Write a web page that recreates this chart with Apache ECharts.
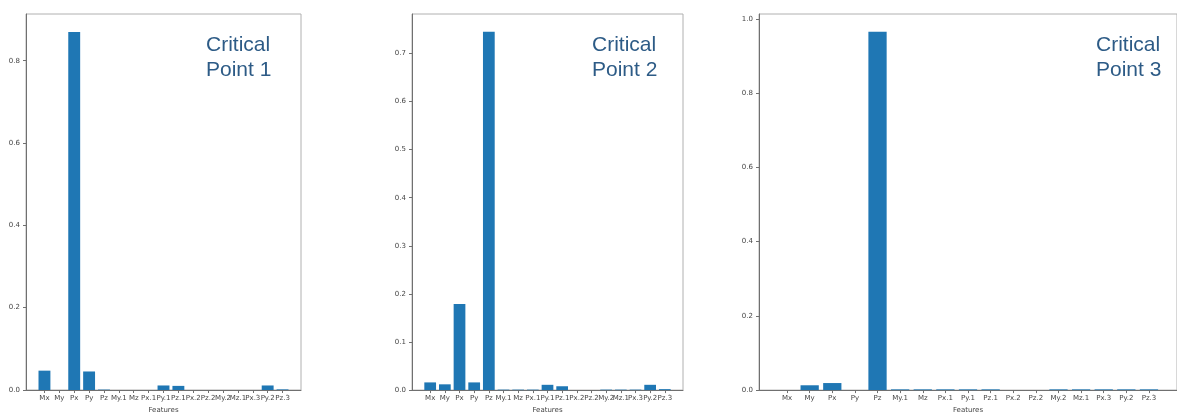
<!DOCTYPE html>
<html>
<head>
<meta charset="utf-8">
<script src="https://cdn.jsdelivr.net/npm/echarts@6/dist/echarts.min.js"></script>
<style>
html,body{margin:0;padding:0;background:#fff;}
#c{width:1177px;height:419px;}
</style>
</head>
<body>
<div id="c"></div>
<script>
const categories = ['Mx','My','Px','Py','Pz','My.1','Mz','Px.1','Py.1','Pz.1','Px.2','Pz.2','My.2','Mz.1','Px.3','Py.2','Pz.3'];
const cp1Values = [0.047, 0, 0.870, 0.045, 0.001, 0, 0, 0, 0.011, 0.010, 0, 0, 0, 0, 0, 0.011, 0.0015];
const cp2Values = [0.016, 0.012, 0.179, 0.016, 0.745, 0.001, 0.001, 0.001, 0.011, 0.008, 0, 0, 0.001, 0.001, 0.001, 0.011, 0.002];
const cp3Values = [0, 0.013, 0.019, 0, 0.965, 0.002, 0.002, 0.002, 0.002, 0.002, 0, 0, 0.002, 0.002, 0.002, 0.002, 0.002];
const titles = ['Critical\nPoint 1', 'Critical\nPoint 2', 'Critical\nPoint 3'];
const yMax = [0.9135, 0.782, 1.013];
const yTicks1 = [0, 0.2, 0.4, 0.6, 0.8];
const yTicks2 = [0, 0.1, 0.2, 0.3, 0.4, 0.5, 0.6, 0.7];
const yTicks3 = [0, 0.2, 0.4, 0.6, 0.8, 1.0];
const yTicks = [yTicks1, yTicks2, yTicks3];

const panels = [
  {left: 26, width: 275, top: 14, height: 383.5, titleX: 206},
  {left: 412, width: 271, top: 14, height: 380.5, titleX: 592},
  {left: 759, width: 422, top: 14, height: 380.5, titleX: 1096}
];
const allValues = [cp1Values, cp2Values, cp3Values];
const xMin = -1.24, xMax = categories.length - 1 + 1.24;
const idx = categories.map((_, i) => i);

const grids = [], xAxes = [], yAxes = [], series = [], graphics = [];
panels.forEach((p, k) => {
  grids.push({left: p.left, top: p.top, width: p.width, height: p.height,
    show: true, borderColor: '#b0b0b0', borderWidth: 1, containLabel: false});
  xAxes.push({
    type: 'value', gridIndex: k, min: xMin, max: xMax,
    splitLine: {show: false},
    axisLine: {show: true, onZero: false, lineStyle: {color: '#707070', width: 1}},
    axisTick: {show: true, length: 3, customValues: idx, lineStyle: {color: '#707070'}},
    axisLabel: {customValues: idx, formatter: v => categories[Math.round(v)] || '',
      fontSize: 7, color: '#444', margin: 5, fontFamily: 'DejaVu Sans', hideOverlap: false},
    name: 'Features', nameLocation: 'middle', nameGap: k === 0 ? 17 : 16,
    nameTextStyle: {fontSize: 7, color: '#444', fontFamily: 'DejaVu Sans'}
  });
  yAxes.push({
    type: 'value', gridIndex: k, min: 0, max: yMax[k],
    splitLine: {show: false},
    axisLine: {show: true, onZero: false, lineStyle: {color: '#707070', width: 1}},
    axisTick: {show: true, length: 3, customValues: yTicks[k], lineStyle: {color: '#707070'}},
    axisLabel: {customValues: yTicks[k], formatter: v => v.toFixed(1), fontSize: 7, color: '#444', margin: 6,
      fontFamily: 'DejaVu Sans'}
  });
  const unit = p.width / (xMax - xMin);
  series.push({
    type: 'bar', xAxisIndex: k, yAxisIndex: k,
    data: allValues[k].map((v, i) => [i, v]),
    barWidth: unit * 0.8,
    itemStyle: {color: '#1f77b4'},
    silent: true, animation: false
  });
  graphics.push({
    type: 'text', left: p.titleX, top: 33,
    style: {text: titles[k], fill: '#2d5b86', fontSize: 21, lineHeight: 25,
      fontFamily: 'Liberation Sans, Arial, sans-serif', textAlign: 'left'}
  });
});

const chart = echarts.init(document.getElementById('c'), null, {renderer: 'canvas'});
chart.setOption({
  animation: false,
  backgroundColor: '#fff',
  grid: grids, xAxis: xAxes, yAxis: yAxes, series: series, graphic: graphics
});
</script>
</body>
</html>
